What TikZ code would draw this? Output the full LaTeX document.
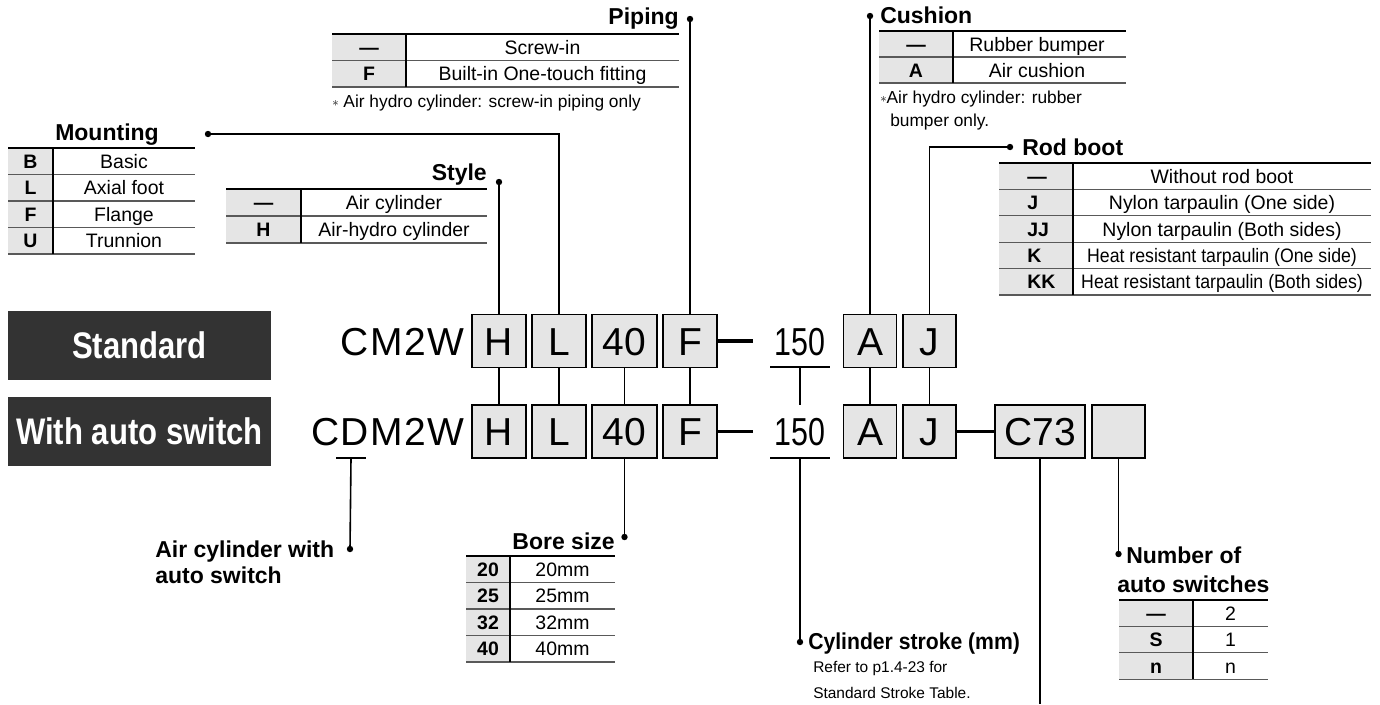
\documentclass[tikz,border=0pt]{standalone}
\usepackage{fontspec}
\setmainfont{Liberation Sans}
\newfontfamily\codefont[LetterSpace=4]{Liberation Sans}
\newfontfamily\narrowfont[FakeStretch=0.84]{Liberation Sans}
\newfontfamily\strokefont[FakeStretch=0.78]{Liberation Sans}
\newfontfamily\headnarrow[FakeStretch=0.92]{Liberation Sans}
\usetikzlibrary{positioning}

\begin{document}
\begin{tikzpicture}[x=0.75pt, y=-0.75pt,
    every node/.style={inner sep=0pt},
    tag/.style={fill=black!80, text=white, minimum width=197.25pt, minimum height=51.75pt,
      text height=19.5pt, text depth=0pt, font=\narrowfont\bfseries\fontsize{27.75}{30}\selectfont},
    model/.style={font=\codefont\fontsize{29.25}{32}\selectfont},
    codebox/.style={draw, line width=1.1pt, fill=black!10, minimum width=40.5pt, minimum height=40pt,
      text height=21pt, text depth=0pt, font=\fontsize{29.25}{32}\selectfont},
    strokenum/.style={minimum width=44.25pt, minimum height=39pt, text height=21pt, text depth=0pt,
      font=\strokefont\fontsize{29.25}{32}\selectfont},
    heading/.style={font=\bfseries\fontsize{17.25}{20}\selectfont},
    footnote/.style={font=\fontsize{13}{15}\selectfont},
    refnote/.style={font=\fontsize{11.6}{14}\selectfont},
    codetxt/.style={font=\bfseries\fontsize{14.6}{16}\selectfont, text height=10.5pt, text depth=0pt},
    desctxt/.style={font=\fontsize{14.6}{16}\selectfont, text height=10.5pt, text depth=0pt},
    codecol/.style={fill=black!10},
    topline/.style={line width=1.5pt},
    rowline/.style={line width=0.8pt, draw=black!65},
    divline/.style={line width=0.8pt},
    conn/.style={line width=1.2pt},
    hyph/.style={line width=2.6pt}
  ]
    \useasboundingbox (0,0) rectangle (1380,704);

    % series tags
    \node[tag] (tagStd) at (139.5,345.5) {Standard};
    \node[tag] (tagAuto) at (139.5,431.5) {With auto switch};

    % model codes
    \node[model, anchor=base east] (m1) at (465,355) {CM2W};
    \node[model, anchor=base east] (m2) at (465,445.5) {CDM2W};

    \foreach \r/\y in {1/341,2/431.5} {
      \node[codebox] (H\r) at (499,\y) {H};
      \node[codebox] (L\r) at (559,\y) {L};
      \node[codebox, minimum width=48.75pt] (B\r) at (624.5,\y) {40};
      \node[codebox] (F\r) at (690,\y) {F};
      \node[strokenum] (s\r) at (800,\y) {150};
      \node[codebox, minimum width=39.75pt] (A\r) at (870,\y) {A};
      \node[codebox, minimum width=39.75pt] (J\r) at (929.5,\y) {J};
      \coordinate (fd\r) at (753,\y);
      \draw[hyph] (F\r.east) -- (fd\r);
      \draw[conn] (s\r.south west) -- (s\r.south east);
    }
    \node[codebox, minimum width=67.5pt] (C2) at (1040,431.5) {C73};
    \node[codebox, minimum width=39.75pt] (X2) at (1118.5,431.5) {};
    \draw[hyph] (J2.east) -- (C2.west);

    % leader dots
    \coordinate (dMount) at (208,134);
    \coordinate (dStyle) at (499,182);
    \coordinate (dPipe) at (690,19);
    \coordinate (dCush) at (870,16);
    \coordinate (dRod) at (1010,147);
    \coordinate (dAir) at (350,549);
    \coordinate (dBore) at (624.5,537);
    \coordinate (dStroke) at (800,642);
    \coordinate (dNum) at (1118.5,554);
    \coordinate (cEnd) at (1040,704);
    \coordinate (uD) at (351,458);
    \foreach \d in {dMount,dStyle,dPipe,dCush,dRod,dAir,dBore,dStroke,dNum}
      \fill (\d) circle[radius=2.4pt];

    % connectors
    \draw[conn] (dMount) -| (L1.north);
    \draw[conn] (dStyle) -- (H1.north);
    \draw[conn] (dPipe) -- (F1.north);
    \draw[conn] (dCush) -- (A1.north);
    \draw[conn] (dRod) -| (J1.north);
    \foreach \n in {H,L,B,F,A,J}
      \draw[conn] (\n1.south) -- (\n2.north);
    \draw[conn] (s1.south) -- (s2.north);
    \draw[conn] ([xshift=-11.25pt]uD) -- ([xshift=11.25pt]uD);
    \draw[conn] (uD) -- (dAir);
    \draw[conn] (B2.south) -- (dBore);
    \draw[conn] (s2.south) -- (dStroke);
    \draw[conn] (C2.south) -- (cEnd);
    \draw[conn] (X2.south) -- (dNum);

    % mounting
    \node[heading, anchor=base] (hMount) at (107,140) {Mounting};
    \fill[codecol] (8,148) rectangle (53,254);
    \foreach \code/\desc [count=\i] in {B/Basic,L/Axial foot,F/Flange,U/Trunnion} {
      \node[codetxt] (mnt-c\i) at (30.5,{148+26.5*(\i-0.5)}) {\code};
      \node[desctxt] (mnt-d\i) at (124,{148+26.5*(\i-0.5)}) {\desc};
      \draw[rowline] (8,{148+26.5*\i}) -- (195,{148+26.5*\i});
    }
    \draw[topline] (8,148) -- (195,148);
    \draw[divline] (53,148) -- (53,254);

    % style
    \node[heading, anchor=base east] (hStyle) at (487,180) {Style};
    \fill[codecol] (226,189) rectangle (301,243);
    \foreach \code/\desc [count=\i] in {—/Air cylinder,H/Air-hydro cylinder} {
      \node[codetxt] (sty-c\i) at (263.5,{189+27*(\i-0.5)}) {\code};
      \node[desctxt] (sty-d\i) at (394,{189+27*(\i-0.5)}) {\desc};
      \draw[rowline] (226,{189+27*\i}) -- (487,{189+27*\i});
    }
    \draw[topline] (226,189) -- (487,189);
    \draw[divline] (301,189) -- (301,243);

    % piping
    \node[heading, anchor=base east] (hPipe) at (679,24) {Piping};
    \fill[codecol] (332,34) rectangle (406,87);
    \foreach \code/\desc [count=\i] in {—/Screw-in,F/Built-in One-touch fitting} {
      \node[codetxt] (pip-c\i) at (369,{34+26.5*(\i-0.5)}) {\code};
      \node[desctxt] (pip-d\i) at (542.5,{34+26.5*(\i-0.5)}) {\desc};
      \draw[rowline] (332,{34+26.5*\i}) -- (679,{34+26.5*\i});
    }
    \draw[topline] (332,34) -- (679,34);
    \draw[divline] (406,34) -- (406,87);
    \node[footnote, anchor=base west] (nPipe) at (332,107)
      {\raisebox{0.5pt}{\scalebox{0.8}{$\ast$}} Air hydro cylinder: screw-in piping only};

    % cushion
    \node[heading, anchor=base west] (hCush) at (880,23) {Cushion};
    \fill[codecol] (879,31) rectangle (953,83);
    \foreach \code/\desc [count=\i] in {—/Rubber bumper,A/Air cushion} {
      \node[codetxt] (cus-c\i) at (916,{31+26*(\i-0.5)}) {\code};
      \node[desctxt] (cus-d\i) at (1037,{31+26*(\i-0.5)}) {\desc};
      \draw[rowline] (879,{31+26*\i}) -- (1126,{31+26*\i});
    }
    \draw[topline] (879,31) -- (1126,31);
    \draw[divline] (953,31) -- (953,83);
    \node[footnote, anchor=base west] (nCushA) at (880,103)
      {\raisebox{0.5pt}{\scalebox{0.8}{$\ast$}}Air hydro cylinder: rubber};
    \node[footnote, anchor=base west] (nCushB) at (890,126) {bumper only.};

    % rod boot
    \node[heading, anchor=base west] (hRod) at (1022,155) {Rod boot};
    \fill[codecol] (999,163) rectangle (1073,295);
    \foreach \code/\desc [count=\i] in {—/Without rod boot,J/Nylon tarpaulin (One side),
        JJ/Nylon tarpaulin (Both sides),K/{\scalebox{0.91}[1]{Heat resistant tarpaulin (One side)}},
        KK/{\scalebox{0.91}[1]{Heat resistant tarpaulin (Both sides)}}} {
      \node[codetxt, anchor=west] (rod-c\i) at (1027,{163+26.4*(\i-0.5)}) {\code};
      \node[desctxt] (rod-d\i) at (1222,{163+26.4*(\i-0.5)}) {\desc};
      \draw[rowline] (999,{163+26.4*\i}) -- (1371,{163+26.4*\i});
    }
    \draw[topline] (999,163) -- (1371,163);
    \draw[divline] (1073,163) -- (1073,295);

    % air cylinder with auto switch
    \node[heading, anchor=base west] (hAirA) at (155,557) {Air cylinder with};
    \node[heading, anchor=base west] (hAirB) at (155,583) {auto switch};

    % bore size
    \node[heading, anchor=base east] (hBore) at (615,549) {Bore size};
    \fill[codecol] (466,556) rectangle (510,662);
    \foreach \code/\desc [count=\i] in {20/20mm,25/25mm,32/32mm,40/40mm} {
      \node[codetxt] (bor-c\i) at (488,{556+26.5*(\i-0.5)}) {\code};
      \node[desctxt] (bor-d\i) at (562.5,{556+26.5*(\i-0.5)}) {\desc};
      \draw[rowline] (466,{556+26.5*\i}) -- (615,{556+26.5*\i});
    }
    \draw[topline] (466,556) -- (615,556);
    \draw[divline] (510,556) -- (510,662);

    % cylinder stroke
    \node[heading, anchor=base west, font=\headnarrow\bfseries\fontsize{17.25}{20}\selectfont]
      (hStroke) at (808,649) {Cylinder stroke (mm)};
    \node[refnote, anchor=base west] (nStrokeA) at (813,672) {Refer to p1.4-23 for};
    \node[refnote, anchor=base west] (nStrokeB) at (813,698) {Standard Stroke Table.};

    % number of auto switches
    \node[heading, anchor=base west] (hNumA) at (1126,563) {Number of};
    \node[heading, anchor=base west] (hNumB) at (1117,592) {auto switches};
    \fill[codecol] (1119,600) rectangle (1193,679);
    \foreach \code/\desc [count=\i] in {—/2,S/1,n/n} {
      \node[codetxt] (num-c\i) at (1156,{600+26.4*(\i-0.5)}) {\code};
      \node[desctxt] (num-d\i) at (1230.5,{600+26.4*(\i-0.5)}) {\desc};
      \draw[rowline] (1119,{600+26.4*\i}) -- (1268,{600+26.4*\i});
    }
    \draw[topline] (1119,600) -- (1268,600);
    \draw[divline] (1193,600) -- (1193,679);
  \end{tikzpicture}
\end{document}
